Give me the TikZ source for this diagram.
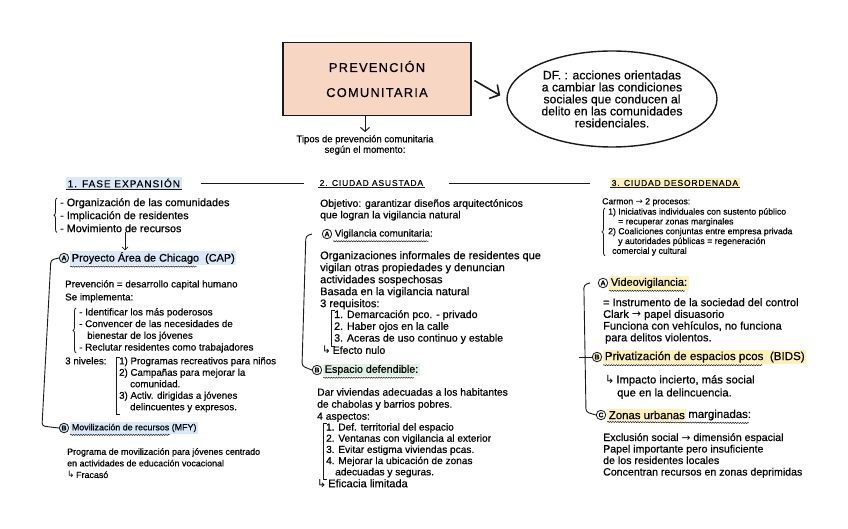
\documentclass[tikz,border=0pt]{standalone}
\usepackage{fontspec}
\setmainfont{Liberation Sans}[FakeBold=0.6]
\newfontfamily\spacedfont[LetterSpace=10,FakeBold=0.4]{Liberation Sans}
\newfontfamily\symfont{DejaVu Sans}
\usepackage{tikz}
\usetikzlibrary{arrows.meta,positioning,shapes.geometric,decorations.pathreplacing,decorations.pathmorphing}
\definecolor{peach}{HTML}{F8D6C4}
\definecolor{hlblue}{HTML}{D9E9F8}
\definecolor{hlyellow}{HTML}{FCF1BC}
\definecolor{hlgreen}{HTML}{DEF1E3}
\definecolor{ink}{HTML}{1A1A1A}
\newcommand{\hk}{{\symfont\char"21B3}\,}
\newcommand{\ra}{{\symfont\char"2192}}
\newcommand{\fs}[2]{\fontsize{#1}{#2}\selectfont}
\tikzset{
    titlebox/.style={draw=ink, line width=1.6pt, fill=peach, align=center, minimum width=188pt, minimum height=73pt, font=\spacedfont\fs{12.8}{25}},
    defnode/.style={ellipse, draw=ink, line width=1.4pt, minimum width=210pt, minimum height=96pt, inner sep=0pt, align=center, font=\fs{12.2}{12}},
    headnode/.style={font=\spacedfont\fs{8.5}{10}, inner sep=1.5pt, anchor=west},
    subhead/.style={font=\fs{10.5}{11}, inner sep=1.5pt},
    notetext/.style={font=\fs{10.5}{11.7}, align=left, anchor=north west, inner sep=0pt},
    smalltext/.style={notetext, font=\fs{8.7}{9.8}},
    circ/.style={circle, draw=ink, line width=0.8pt, inner sep=0.4pt, minimum size=9.5pt, font=\fs{6.8}{7}\bfseries},
    bigarrow/.style={-{Straight Barb[length=7pt,width=16pt]}, line width=1.6pt, draw=ink},
    downarrow/.style={-{Straight Barb[length=4pt,width=9pt]}, line width=1pt, draw=ink},
    smallarrow/.style={-{Straight Barb[length=3pt,width=6pt]}, line width=0.7pt, draw=ink},
    hook/.style={draw=ink, line width=0.9pt, rounded corners=3pt},
    listbrace/.style={draw=ink, line width=0.8pt, decorate, decoration={brace, amplitude=3pt}},
    wavy/.style={draw=ink, line width=0.5pt, decorate, decoration={snake, amplitude=0.6pt, segment length=2.5pt}},
    underl/.style={draw=ink, line width=0.9pt}
}
\begin{document}
\begin{tikzpicture}[x=1pt, y=-1pt]
    \useasboundingbox (0,0) rectangle (848,529);

    \node[titlebox] (prev) at (377,79) {PREVENCIÓN\\COMUNITARIA};
    \node[defnode] (def) at (612,99) {DF. : acciones orientadas\\a cambiar las condiciones\\sociales que conducen al\\delito en las comunidades\\residenciales.};
    \node[align=center, inner sep=0pt, font=\fs{9.5}{10.5}] (tipos) at (365,145) {Tipos de prevención comunitaria\\según el momento:};
    \draw[bigarrow, shorten <=3pt, shorten >=7pt] (prev.east) -- (def.west);
    \draw[downarrow, shorten >=3pt] (prev.south -| tipos.north) -- (tipos.north);

    % 1. fase expansion
    \node[headnode, fill=hlblue, font=\spacedfont\fs{10}{11}] (fase) at (66,183) {1. FASE EXPANSIÓN};
    \node[headnode] (asus) at (318,183) {2. CIUDAD ASUSTADA};
    \node[headnode, fill=hlyellow] (deso) at (610,183) {3. CIUDAD DESORDENADA};
    \draw[underl] (fase.south west) -- (fase.south east);
    \draw[underl] (asus.south west) -- (asus.south east);
    \draw[underl] (deso.south west) -- (deso.south east);
    \draw[underl, shorten <=19pt, shorten >=14pt] (fase.east) -- (asus.west);
    \draw[underl, shorten <=24pt, shorten >=20pt] (asus.east) -- (deso.west);

    \node[notetext, font=\fs{10.8}{13}] (orglist) at (60,198) {- Organización de las comunidades\\- Implicación de residentes\\- Movimiento de recursos};
    \draw[listbrace] ([xshift=-3pt]orglist.south west) -- ([xshift=-3pt]orglist.north west);

    \node[circ, fill=hlblue] (circA1) at (64,258) {A};
    \node[subhead, fill=hlblue, right=1pt of circA1, font=\fs{10.9}{11}] (cap) {Proyecto Área de Chicago \ (CAP)};
    \draw[wavy] ([yshift=-1pt]cap.south west) -- ([xshift=-40pt,yshift=-1pt]cap.south east);
    \draw[smallarrow] ([xshift=65pt]orglist.south west) -- ([xshift=65pt]orglist.south west |- cap.north);

    \node[notetext, font=\fs{9.8}{13}] (prevtxt) at (65,280) {Prevención = desarrollo capital humano\\Se implementa:};
    \node[notetext, font=\fs{9.8}{11.7}] (impl) at (79,308) {- Identificar los más poderosos\\- Convencer de las necesidades de\\\hspace*{8pt}bienestar de los jóvenes\\- Reclutar residentes como trabajadores};
    \draw[listbrace] ([xshift=-3pt]impl.south west) -- ([xshift=-3pt]impl.north west);

    \node[notetext, font=\fs{9.8}{11.5}] (nivtit) at (65,357) {3 niveles:};
    \node[notetext, font=\fs{9.7}{11.5}] (niv) at (119,357) {1) Programas recreativos para niños\\2) Campañas para mejorar la\\\hspace*{11pt}comunidad.\\3) Activ. dirigidas a jóvenes\\\hspace*{11pt}delincuentes y expresos.};
    \draw[line width=0.8pt, draw=ink] ([xshift=1pt]niv.north west) -- ([xshift=-3pt]niv.north west) -- ([xshift=-3pt,yshift=-2pt]niv.south west) -- ([xshift=1pt,yshift=-2pt]niv.south west);

    \node[circ, fill=hlblue] (circB1) at (64,428) {B};
    \node[subhead, fill=hlblue, right=1pt of circB1, font=\fs{8.9}{10}] (mfy) {Movilización de recursos (MFY)};
    \draw[wavy] ([yshift=-1pt]mfy.south west) -- ([xshift=-28pt,yshift=-1pt]mfy.south east);
    \draw[hook] (circA1.west) -- ++(-8,2) -- (42,426) -- (circB1.west);

    \node[notetext, font=\fs{8.9}{11.6}] (mfytxt) at (67,448) {Programa de movilización para jóvenes centrado\\en actividades de educación vocacional\\\hk Fracasó};

    % 2. ciudad asustada
    \node[notetext, font=\fs{10.4}{11.5}] (obj) at (320,199) {Objetivo: garantizar diseños arquitectónicos\\que logran la vigilancia natural};
    \node[circ] (circA2) at (327,234) {A};
    \node[subhead, right=1pt of circA2, font=\fs{9.8}{11}] (vig) {Vigilancia comunitaria:};
    \draw[wavy] ([yshift=-1pt]vig.south west) -- ([xshift=-6pt,yshift=-1pt]vig.south east);

    \node[notetext, font=\fs{11}{12}] (orgtxt) at (320,251) {Organizaciones informales de residentes que\\vigilan otras propiedades y denuncian\\actividades sospechosas\\Basada en la vigilancia natural\\3 requisitos:};
    \node[notetext, font=\fs{10.6}{11.8}] (req) at (334,310) {1. Demarcación pco. - privado\\2. Haber ojos en la calle\\3. Aceras de uso continuo y estable};
    \draw[line width=0.8pt, draw=ink] ([xshift=1pt]req.north west) -- ([xshift=-3pt]req.north west) -- ([xshift=-3pt,yshift=-2pt]req.south west) -- ([xshift=1pt,yshift=-2pt]req.south west);
    \node[notetext] (nulo) at (322,346) {\hk Efecto nulo};

    \node[circ] (circB2) at (317,370) {B};
    \node[subhead, fill=hlgreen, right=1pt of circB2, font=\fs{10.7}{11}] (esp) {Espacio defendible:};
    \draw[wavy] ([yshift=-1pt]esp.south west) -- ([xshift=-6pt,yshift=-1pt]esp.south east);
    \draw[hook] ([xshift=-10pt]circA2.west) -- ++(-6,2) -- (302,366) -- (circB2.west);

    \node[notetext, font=\fs{10.3}{12}] (dar) at (317,388) {Dar viviendas adecuadas a los habitantes\\de chabolas y barrios pobres.\\4 aspectos:};
    \node[notetext, font=\fs{10.1}{11.2}] (asp) at (326,423) {1. Def. territorial del espacio\\2. Ventanas con vigilancia al exterior\\3. Evitar estigma viviendas pcas.\\4. Mejorar la ubicación de zonas\\\hspace*{9pt}adecuadas y seguras.};
    \draw[line width=0.8pt, draw=ink] ([xshift=1pt]asp.north west) -- ([xshift=-3pt]asp.north west) -- ([xshift=-3pt,yshift=-2pt]asp.south west) -- ([xshift=1pt,yshift=-2pt]asp.south west);
    \node[notetext, font=\fs{11}{12}] (efic) at (317,479) {\hk Eficacia limitada};

    % 3. ciudad desordenada
    \node[smalltext] (carm) at (602,198) {Carmon \ra{} 2 procesos:};
    \node[smalltext] (proc) at (608,208) {1) Iniciativas individuales con sustento público\\\hspace*{10pt}= recuperar zonas marginales\\2) Coaliciones conjuntas entre empresa privada\\\hspace*{10pt}y autoridades públicas = regeneración\\\hspace*{4pt}comercial y cultural};
    \draw[listbrace] ([xshift=-3pt]proc.south west) -- ([xshift=-3pt]proc.north west);

    \node[circ] (circA3) at (603,283) {A};
    \node[subhead, fill=hlyellow, right=1pt of circA3, font=\fs{11}{11}] (video) {Videovigilancia:};
    \draw[wavy] ([yshift=-1pt]video.south west) -- ([xshift=-4pt,yshift=-1pt]video.south east);
    \node[notetext, font=\fs{11}{11.7}] (instr) at (603,298) {= Instrumento de la sociedad del control\\Clark \ra{} papel disuasorio\\Funciona con vehículos, no funciona\\\hspace*{2pt}para delitos violentos.};

    \node[circ, fill=hlyellow] (circB3) at (597,357) {B};
    \node[subhead, fill=hlyellow, right=1pt of circB3, font=\fs{11.6}{12}] (priv) {Privatización de espacios pcos \ (BIDS)};
    \draw[wavy] ([yshift=-1pt]priv.south west) -- ([xshift=-44pt,yshift=-1pt]priv.south east);
    \node[notetext, font=\fs{11.2}{13}] (imp) at (605,375) {\hk Impacto incierto, más social\\\hspace*{12pt}que en la delincuencia.};

    \node[circ] (circC3) at (601,415) {C};
    \node[subhead, fill=hlyellow, right=1pt of circC3, font=\fs{11.4}{12}] (zon) {Zonas urbanas};
    \node[subhead, right=0pt of zon, font=\fs{11.4}{12}] (marg) {marginadas:};
    \draw[wavy] ([yshift=-1pt]zon.south west) -- ([xshift=-4pt,yshift=-1pt]marg.south east);
    \draw[hook] ([xshift=-8pt]circA3.west) -- ++(-6,2) -- (586,412) -- (circC3.west);
    \draw[line width=0.9pt, draw=ink] ([xshift=-13pt]circB3.west) -- (circB3.west);

    \node[notetext, font=\fs{10.6}{11.5}] (excl) at (603,433) {Exclusión social \ra{} dimensión espacial\\Papel importante pero insuficiente\\de los residentes locales\\Concentran recursos en zonas deprimidas};
\end{tikzpicture}
\end{document}
